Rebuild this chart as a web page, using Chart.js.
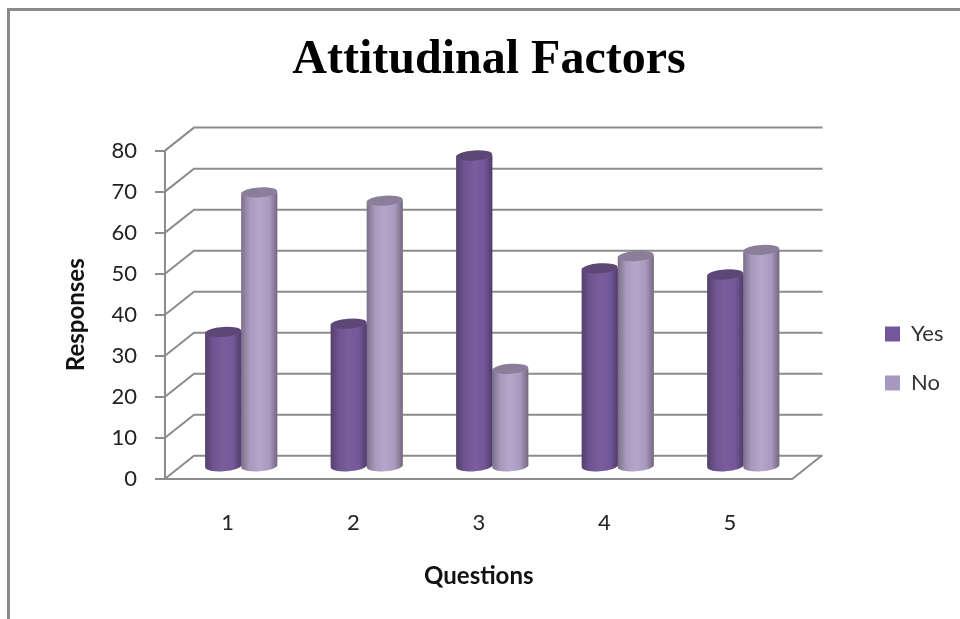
<!DOCTYPE html>
<html>
<head>
<meta charset="utf-8">
<title>Attitudinal Factors</title>
<script src="https://cdn.jsdelivr.net/npm/chart.js@4/dist/chart.umd.min.js"></script>
<style>
  html, body { margin:0; padding:0; background:#fff; }
  canvas { display:block; }
</style>
</head>
<body>
<canvas id="chartFactors" width="960" height="619"></canvas>
<script>
const questions = ['1','2','3','4','5'];
const yesValues = [33,35,76,48.5,47];
const noValues  = [67,65,24,51.5,53];
const yTicks    = [0,10,20,30,40,50,60,70,80];

const DEPTH_X = 29, DEPTH_Y = 23;
const LINE = '#8c8c8c';
const LABEL_FONT = 'Lato';

// side shading and cap colour for each series
const shades = [
  { stops:['#54406c','#6e5490','#7a5d9c','#72579a','#503c68'], cap:'#5d4776' },
  { stops:['#7c7088','#a798bc','#b5a6cb','#a999be','#746880'], cap:'#8a7f9a' },
];

// outer frame, only top and left sides show
const frame = {
  id:'frame',
  beforeDraw(chart){
    const { ctx, width, height } = chart;
    ctx.save();
    ctx.fillStyle = '#fff';
    ctx.fillRect(0,0,width,height);
    ctx.fillStyle = '#8a8a8a';
    ctx.fillRect(7,8,width-7,3);
    ctx.fillRect(7,8,3,height-8);
    ctx.restore();
  }
};

// back wall lines, left side wall and floor
const walls = {
  id:'walls',
  beforeDatasetsDraw(chart){
    const { ctx, chartArea:a, scales:{ y } } = chart;
    ctx.save();
    ctx.strokeStyle = LINE;
    ctx.lineWidth = 2;
    y.ticks.forEach(t=>{
      const py = y.getPixelForValue(t.value);
      ctx.beginPath();
      ctx.moveTo(a.left,py);
      ctx.lineTo(a.left+DEPTH_X,py-DEPTH_Y);
      ctx.lineTo(a.right+DEPTH_X+1,py-DEPTH_Y);
      ctx.stroke();
    });
    const py0 = y.getPixelForValue(0);
    ctx.beginPath();
    ctx.moveTo(a.right,py0);
    ctx.lineTo(a.right+DEPTH_X,py0-DEPTH_Y);
    ctx.stroke();
    ctx.restore();
  }
};

// bars sit halfway into the depth, shaded as cylinders
const cylinders = {
  id:'cylinders',
  beforeDatasetDraw(chart){
    chart.ctx.save();
    chart.ctx.translate(DEPTH_X/2-1,-DEPTH_Y/2);
  },
  afterDatasetDraw(chart,args){
    const { ctx } = chart;
    const shade = shades[args.index];
    args.meta.data.forEach(bar=>{
      const hw = bar.width/2, l = bar.x-hw, r = bar.x+hw;
      const rx = hw, ry = 5, tilt = -0.07;
      const g = ctx.createLinearGradient(l,0,r,0);
      [0,0.22,0.5,0.78,1].forEach((p,i)=>g.addColorStop(p,shade.stops[i]));
      ctx.fillStyle = g;
      ctx.beginPath();
      ctx.ellipse(bar.x,bar.base,rx,ry,tilt,0,Math.PI);
      ctx.ellipse(bar.x,bar.y,rx,ry,tilt,Math.PI,0,true);
      ctx.closePath();
      ctx.fill();
      ctx.fillStyle = shade.cap;
      ctx.beginPath();
      ctx.ellipse(bar.x,bar.y,rx,ry,tilt,0,Math.PI*2);
      ctx.fill();
    });
    ctx.restore();
  }
};

// title is centred a little right of the plot, legend sits below the axis centre
const boxSpots = {
  id:'boxSpots',
  afterLayout(chart){
    const tb = chart.titleBlock;
    tb.left = 18;
    tb.right = chart.width;
    const lg = chart.legend;
    lg.left = 858;
    lg.right = lg.left+lg.width;
    lg.top += 49;
    lg.bottom += 49;
    lg.adjustHitBoxes();
  }
};

new Chart(document.getElementById('chartFactors'),{
  type:'bar',
  data:{
    labels:questions,
    datasets:[
      { label:'Yes', data:yesValues, backgroundColor:'#73579a' },
      { label:'No',  data:noValues,  backgroundColor:'#a898bf' },
    ]
  },
  plugins:[frame,walls,cylinders,boxSpots],
  options:{
    responsive:false,
    animation:false,
    layout:{ padding:{ left:18, right:72, top:0, bottom:0 } },
    datasets:{ bar:{ barPercentage:1, categoryPercentage:0.574, clip:false } },
    plugins:{
      title:{
        display:true,
        text:'Attitudinal Factors',
        color:'#000',
        font:{ family:'"Liberation Serif"', size:48, weight:'bold' },
        padding:{ top:32, bottom:61 }
      },
      legend:{
        position:'right',
        labels:{
          boxWidth:15, boxHeight:15, padding:27,
          color:'#333',
          font:{ family:LABEL_FONT, size:22 }
        }
      },
      tooltip:{ enabled:false }
    },
    scales:{
      x:{
        grid:{ drawOnChartArea:false, drawTicks:false },
        border:{ color:LINE, width:2 },
        ticks:{ padding:31, color:'#222', font:{ family:LABEL_FONT, size:22 } },
        title:{
          display:true, text:'Questions', color:'#111',
          font:{ family:LABEL_FONT, size:24, weight:'bold' },
          padding:{ top:-5, bottom:28 }
        }
      },
      y:{
        min:0, max:80,
        afterBuildTicks(scale){ scale.ticks = yTicks.map(v=>({ value:v })); },
        afterFit(scale){ scale.width = 147; },
        grid:{ drawOnChartArea:false, tickLength:10, color:LINE, lineWidth:2 },
        border:{ color:LINE, width:2 },
        ticks:{ padding:18, color:'#222', font:{ family:LABEL_FONT, size:22 } },
        title:{
          display:true, text:'Responses', color:'#111',
          font:{ family:LABEL_FONT, size:24, weight:'bold' },
          padding:{ top:44, bottom:0 }
        }
      }
    }
  }
});
</script>
</body>
</html>
